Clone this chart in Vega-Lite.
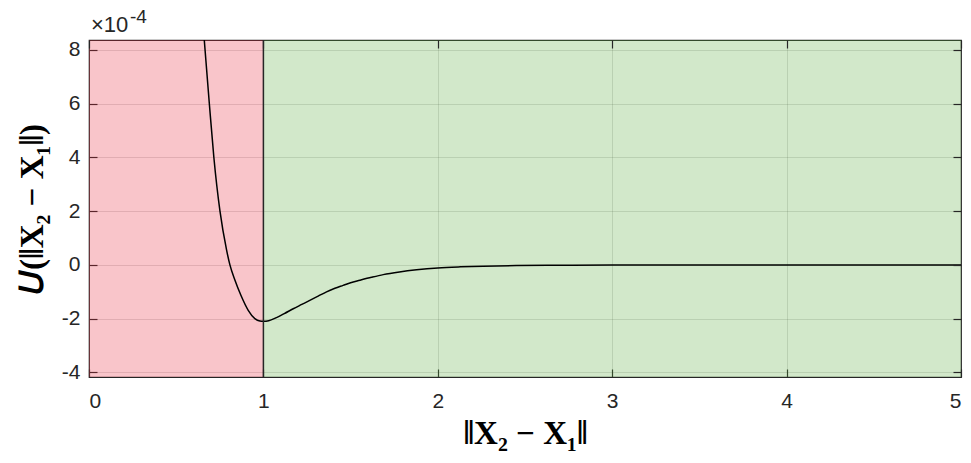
{
  "$schema": "https://vega.github.io/schema/vega-lite/v6.json",
  "width": 872,
  "height": 337,
  "autosize": "none",
  "padding": {"left": 89, "top": 40, "right": 10, "bottom": 86},
  "background": "white",
  "config": {
    "view": {"stroke": "#262626", "strokeWidth": 1.2},
    "axis": {
      "domain": false,
      "labelFont": "Liberation Sans",
      "labelFontSize": 21,
      "labelColor": "#262626",
      "tickColor": "#262626",
      "tickSize": -8,
      "tickWidth": 1.2,
      "gridColor": "#262626",
      "gridOpacity": 0.15,
      "gridWidth": 1,
      "titleFont": "Liberation Serif",
      "titleFontWeight": "bold",
      "titleColor": "#000000"
    }
  },
  "layer": [
    {
      "data": {"values": [
        {"x0": 0, "x1": 1, "zone": "repulsive"},
        {"x0": 1, "x1": 5, "zone": "attractive"}
      ]},
      "mark": {"type": "rect", "opacity": 0.27},
      "encoding": {
        "x": {"field": "x0", "type": "quantitative", "scale": {"domain": [0, 5], "nice": false, "zero": false}, "axis": null},
        "x2": {"field": "x1"},
        "y": {"datum": -4.17, "type": "quantitative", "scale": {"domain": [-4.17, 8.37], "nice": false, "zero": false}, "axis": null},
        "y2": {"datum": 8.37},
        "color": {"field": "zone", "type": "nominal", "scale": {"domain": ["repulsive", "attractive"], "range": ["#e8283c", "#5aaa3c"]}, "legend": null}
      }
    },
    {
      "data": {"name": "curve", "values": [
        {"r": 0.645, "U": 9.68},
        {"r": 0.661, "U": 8.37},
        {"r": 0.690, "U": 6.0},
        {"r": 0.716, "U": 4.0},
        {"r": 0.751, "U": 2.0},
        {"r": 0.789, "U": 0.55},
        {"r": 0.808, "U": 0.0},
        {"r": 0.837, "U": -0.57},
        {"r": 0.871, "U": -1.13},
        {"r": 0.913, "U": -1.69},
        {"r": 0.951, "U": -2.0},
        {"r": 0.980, "U": -2.09},
        {"r": 1.000, "U": -2.10},
        {"r": 1.030, "U": -2.08},
        {"r": 1.075, "U": -1.96},
        {"r": 1.120, "U": -1.81},
        {"r": 1.171, "U": -1.63},
        {"r": 1.220, "U": -1.47},
        {"r": 1.266, "U": -1.32},
        {"r": 1.314, "U": -1.16},
        {"r": 1.362, "U": -1.00},
        {"r": 1.410, "U": -0.87},
        {"r": 1.457, "U": -0.76},
        {"r": 1.500, "U": -0.66},
        {"r": 1.553, "U": -0.57},
        {"r": 1.620, "U": -0.46},
        {"r": 1.687, "U": -0.36},
        {"r": 1.780, "U": -0.26},
        {"r": 1.878, "U": -0.18},
        {"r": 2.000, "U": -0.11},
        {"r": 2.130, "U": -0.07},
        {"r": 2.260, "U": -0.045},
        {"r": 2.450, "U": -0.025},
        {"r": 2.630, "U": -0.012},
        {"r": 3.000, "U": -0.004},
        {"r": 3.500, "U": -0.001},
        {"r": 4.000, "U": 0.0},
        {"r": 5.000, "U": 0.0}
      ]},
      "mark": {"type": "line", "color": "#000000", "strokeWidth": 1.5, "clip": true, "interpolate": "monotone"},
      "encoding": {
        "x": {"field": "r", "type": "quantitative",
              "axis": {"orient": "bottom", "values": [0, 1, 2, 3, 4, 5], "grid": true, "labelPadding": 21, "labelBaseline": "top",
                       "title": "‖X₂ − X₁‖", "titleFontSize": 33, "titlePadding": 6}},
        "y": {"field": "U", "type": "quantitative",
              "axis": {"orient": "left", "values": [-4, -2, 0, 2, 4, 6, 8], "grid": true, "labelPadding": 17,
                       "labelExpr": "'' + datum.value",
                       "title": "𝑈(‖X₂ − X₁‖)", "titleFontSize": 33, "titlePadding": 12}}
      }
    },
    {
      "data": {"values": [{"r": 1}]},
      "mark": {"type": "rule", "color": "#262626", "strokeWidth": 1.5},
      "encoding": {
        "x": {"field": "r", "type": "quantitative", "axis": null}
      }
    },
    {
      "data": {"values": [{"r": 0, "U": 8.37, "label": "×10"}]},
      "mark": {"type": "text", "align": "left", "baseline": "alphabetic", "dx": 2, "dy": -8, "fontSize": 22, "font": "Liberation Sans", "color": "#262626"},
      "encoding": {
        "x": {"field": "r", "type": "quantitative", "axis": null},
        "y": {"field": "U", "type": "quantitative", "axis": null},
        "text": {"field": "label"}
      }
    },
    {
      "data": {"values": [{"r": 0, "U": 8.37, "label": "-4"}]},
      "mark": {"type": "text", "align": "left", "baseline": "alphabetic", "dx": 41, "dy": -17, "fontSize": 19, "font": "Liberation Sans", "color": "#262626"},
      "encoding": {
        "x": {"field": "r", "type": "quantitative", "axis": null},
        "y": {"field": "U", "type": "quantitative", "axis": null},
        "text": {"field": "label"}
      }
    },
    {
      "data": {"name": "curve"},
      "mark": {"type": "line", "opacity": 0, "clip": true},
      "encoding": {
        "x": {"field": "r", "type": "quantitative",
              "axis": {"orient": "top", "values": [0, 1, 2, 3, 4, 5], "grid": false, "labels": false, "title": null, "zindex": 1}},
        "y": {"field": "U", "type": "quantitative",
              "axis": {"orient": "right", "values": [-4, -2, 0, 2, 4, 6, 8], "grid": false, "labels": false, "title": null, "zindex": 1}}
      }
    }
  ],
  "resolve": {"axis": {"x": "independent", "y": "independent"}}
}
